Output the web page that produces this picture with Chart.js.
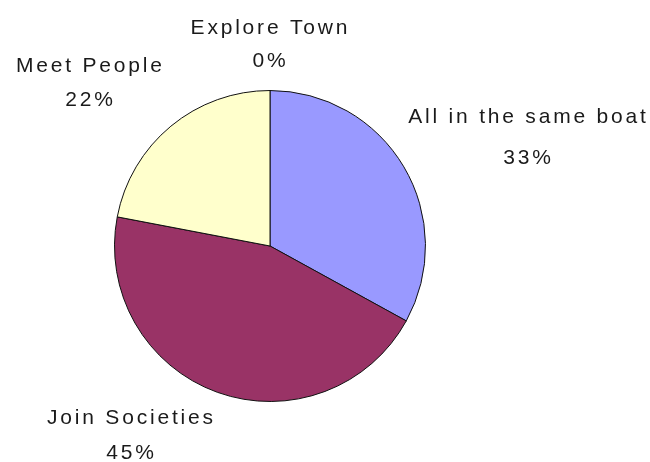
<!DOCTYPE html>
<html>
<head>
<meta charset="utf-8">
<script src="https://cdn.jsdelivr.net/npm/chart.js@4/dist/chart.umd.min.js"></script>
<style>
    html, body { margin: 0; padding: 0; background: #fff; }
    #wrap { width: 650px; height: 462px; }
</style>
</head>
<body>
<div id="wrap"><canvas id="pieChart"></canvas></div>
<script>
// Slice data, in drawing order (clockwise from 12 o'clock)
var categories = ["All in the same boat", "Join Societies", "Meet People", "Explore Town"];
var percentages = [33, 45, 22, 0];
var sliceColours = ["#9999ff", "#993366", "#ffffcc", "#ffffff"];

// Where each label block sits, relative to the pie centre (dx, dy of first baseline)
var labelSpots = [
    { dx: 257, dy: -123, gap: 41 },
    { dx: -140, dy: 178, gap: 35 },
    { dx: -181, dy: -174, gap: 34 },
    { dx: -1, dy: -212, gap: 33 }
];

var labelPlugin = {
    id: "sliceLabels",
    afterDraw: function(chart) {
        var ctx = chart.ctx;
        var arc = chart.getDatasetMeta(0).data[0];
        var cx = arc.x, cy = arc.y;
        var spacing = 2.8;
        ctx.save();
        ctx.font = "21px 'Liberation Sans', Arial, sans-serif";
        ctx.fillStyle = "#1a1a1a";
        ctx.textAlign = "center";
        ctx.textBaseline = "alphabetic";
        ctx.letterSpacing = spacing + "px";
        categories.forEach(function(name, i) {
            var spot = labelSpots[i];
            var x = cx + spot.dx + spacing / 2;
            var y = cy + spot.dy;
            ctx.fillText(name, x, y);
            ctx.fillText(percentages[i] + "%", x, y + spot.gap);
        });
        ctx.restore();
    }
};

var chart = new Chart(document.getElementById("pieChart"), {
    type: "pie",
    data: {
        labels: categories,
        datasets: [{
            data: percentages,
            backgroundColor: sliceColours,
            borderColor: "#111",
            borderWidth: 1
        }]
    },
    options: {
        responsive: true,
        maintainAspectRatio: false,
        animation: false,
        layout: {
            padding: { left: 114, right: 224, top: 90, bottom: 60 }
        },
        plugins: {
            legend: { display: false },
            tooltip: { enabled: false }
        }
    },
    plugins: [labelPlugin]
});
</script>
</body>
</html>
